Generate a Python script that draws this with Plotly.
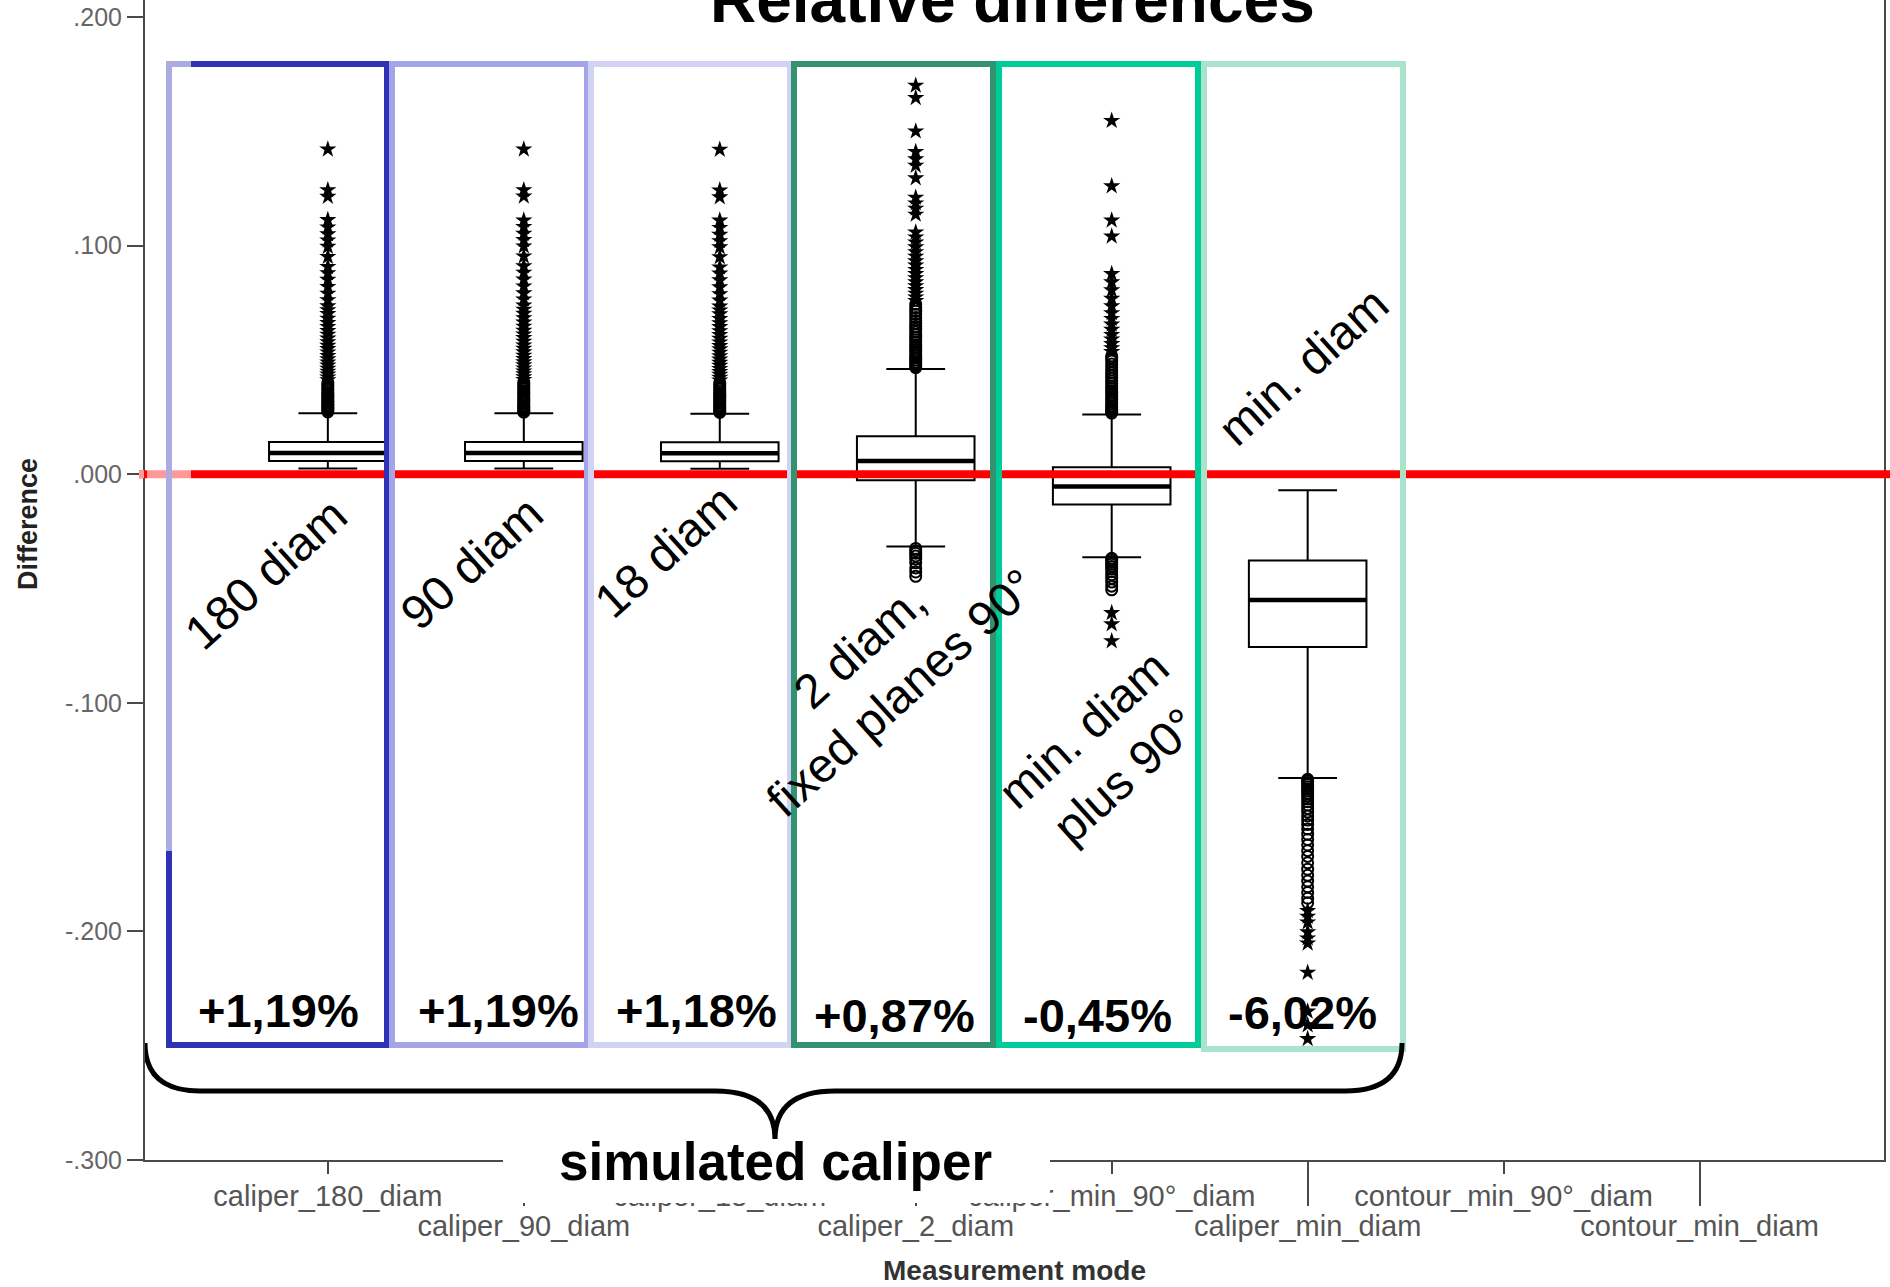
import plotly.graph_objects as go

# ---------------- data ----------------
categories = ["caliper_180_diam", "caliper_90_diam", "caliper_18_diam", "caliper_2_diam",
              "caliper_min_90°_diam", "caliper_min_diam", "contour_min_90°_diam", "contour_min_diam"]

q1 = [0.0057, 0.0057, 0.0056, -0.0027, -0.0133, -0.0756]
median = [0.0092, 0.0092, 0.0091, 0.0058, -0.0054, -0.0550]
q3 = [0.0141, 0.0141, 0.0140, 0.0166, 0.0030, -0.0378]
lower_whisker = [0.0025, 0.0025, 0.0024, -0.0317, -0.0363, -0.1329]
upper_whisker = [0.0266, 0.0266, 0.0264, 0.0460, 0.0261, -0.0070]

mild_180 = [0.0272, 0.0279, 0.0285, 0.0291, 0.0298, 0.0304, 0.0311, 0.0318, 0.0325, 0.0333,
            0.0341, 0.0349, 0.0357, 0.0366, 0.0374, 0.0383, 0.0392, 0.0401]
extreme_180 = [0.0412, 0.0424, 0.0437, 0.0449, 0.0462, 0.0476, 0.0489, 0.0503, 0.0518, 0.0533,
               0.0548, 0.0562, 0.0578, 0.0594, 0.0611, 0.0627, 0.0645, 0.0662, 0.0681, 0.0701,
               0.0718, 0.0735, 0.0762, 0.0790, 0.0820, 0.0851, 0.0880, 0.0907, 0.0951, 0.0995,
               0.1023, 0.1050, 0.1080, 0.1112, 0.1214, 0.1243, 0.1421]
mild_90 = [0.0271, 0.0278, 0.0284, 0.0291, 0.0297, 0.0304, 0.0312, 0.0319, 0.0326, 0.0334,
           0.0342, 0.0350, 0.0358, 0.0366, 0.0375, 0.0384, 0.0393, 0.0402]
extreme_90 = [0.0413, 0.0425, 0.0438, 0.0450, 0.0463, 0.0477, 0.0490, 0.0504, 0.0519, 0.0534,
              0.0549, 0.0564, 0.0580, 0.0596, 0.0612, 0.0628, 0.0646, 0.0664, 0.0683, 0.0702,
              0.0720, 0.0738, 0.0765, 0.0792, 0.0822, 0.0852, 0.0882, 0.0910, 0.0953, 0.0997,
              0.1025, 0.1052, 0.1082, 0.1110, 0.1215, 0.1243, 0.1421]
mild_18 = [0.0270, 0.0277, 0.0283, 0.0290, 0.0296, 0.0303, 0.0310, 0.0318, 0.0325, 0.0333,
           0.0341, 0.0349, 0.0357, 0.0365, 0.0374, 0.0383, 0.0392, 0.0400]
extreme_18 = [0.0411, 0.0423, 0.0436, 0.0448, 0.0461, 0.0475, 0.0488, 0.0502, 0.0517, 0.0532,
              0.0547, 0.0561, 0.0577, 0.0593, 0.0610, 0.0626, 0.0644, 0.0661, 0.0680, 0.0700,
              0.0717, 0.0734, 0.0760, 0.0788, 0.0818, 0.0849, 0.0878, 0.0905, 0.0950, 0.0993,
              0.1020, 0.1048, 0.1078, 0.1110, 0.1212, 0.1242, 0.1420]
mild_2 = [0.0466, 0.0474, 0.0482, 0.0490, 0.0499, 0.0508, 0.0517, 0.0526, 0.0536, 0.0546,
          0.0556, 0.0566, 0.0577, 0.0588, 0.0599, 0.0610, 0.0622, 0.0634, 0.0646, 0.0659,
          0.0672, 0.0685, 0.0699, 0.0713, 0.0728, 0.0743,
          -0.0325, -0.0335, -0.0346, -0.0358, -0.0372, -0.0388, -0.0410, -0.0428, -0.0447]
extreme_2 = [0.0758, 0.0774, 0.0790, 0.0806, 0.0823, 0.0840, 0.0858, 0.0876, 0.0894, 0.0913,
             0.0932, 0.0952, 0.0972, 0.0993, 0.1014, 0.1036, 0.1058, 0.1136, 0.1162, 0.1185,
             0.1210, 0.1295, 0.1350, 0.1378, 0.1410, 0.1500, 0.1646, 0.1700]
mild_min90 = [0.0267, 0.0275, 0.0283, 0.0291, 0.0299, 0.0308, 0.0317, 0.0326, 0.0335, 0.0345,
              0.0355, 0.0365, 0.0375, 0.0386, 0.0397, 0.0408, 0.0420, 0.0432, 0.0444, 0.0456,
              0.0469, 0.0482, 0.0495, 0.0508, 0.0517,
              -0.0368, -0.0376, -0.0385, -0.0394, -0.0404, -0.0415, -0.0427, -0.0440, -0.0455,
              -0.0472, -0.0490, -0.0506]
extreme_min90 = [0.0535, 0.0552, 0.0570, 0.0590, 0.0610, 0.0632, 0.0655, 0.0680, 0.0705, 0.0735,
                 0.0768, 0.0805, 0.0840, 0.0876, 0.1040, 0.1110, 0.1260, 0.1546,
                 -0.0607, -0.0656, -0.0730]
mild_min = [-0.1335, -0.1342, -0.1350, -0.1358, -0.1367, -0.1376, -0.1386, -0.1397, -0.1408, -0.1420,
            -0.1433, -0.1447, -0.1462, -0.1478, -0.1495, -0.1513, -0.1532, -0.1552, -0.1575, -0.1598,
            -0.1622, -0.1647, -0.1672, -0.1700, -0.1728, -0.1755, -0.1780, -0.1805, -0.1830, -0.1855,
            -0.1875]
extreme_min = [-0.1910, -0.1935, -0.1960, -0.2003, -0.2030, -0.2052, -0.2180, -0.2350, -0.2410, -0.2470]

mild_points = [mild_180, mild_90, mild_18, mild_2, mild_min90, mild_min]
extreme_points = [extreme_180, extreme_90, extreme_18, extreme_2, extreme_min90, extreme_min]

y_tick_values = [-0.3, -0.2, -0.1, 0.0, 0.1, 0.2]
y_tick_labels = ["-.300", "-.200", "-.100", ".000", ".100", ".200"]

mode_labels = ["180 diam", "90 diam", "18 diam", "2 diam,<br>fixed planes 90°",
               "min. diam<br>plus 90°", "min. diam"]
mean_labels = ["+1,19%", "+1,19%", "+1,18%", "+0,87%", "-0,45%", "-6,02%"]

# ---------------- layout geometry ----------------
W, H = 1890, 1287
L, R, T, B = 145, 1884, 0, 1160
XR = [-0.933, 7.941]
YR = [-0.3, 0.2074]
FONT = "Liberation Sans, Arial, sans-serif"
BOX_W = 0.6


def xd(px):
    return XR[0] + (px - L) / (R - L) * (XR[1] - XR[0])


def yd(py):
    return YR[1] - (py - T) / (B - T) * (YR[1] - YR[0])


def xp(px):
    return (px - L) / (R - L)


def yp(py):
    return (B - py) / (B - T)


fig = go.Figure()

for i in range(len(q1)):
    fig.add_trace(go.Box(
        x=[i], q1=[q1[i]], median=[median[i]], q3=[q3[i]],
        lowerfence=[lower_whisker[i]], upperfence=[upper_whisker[i]],
        width=BOX_W, whiskerwidth=0.5, fillcolor="white",
        line=dict(color="black", width=2), boxpoints=False, hoverinfo="skip"))
    fig.add_trace(go.Scatter(
        x=[i - BOX_W / 2, i + BOX_W / 2], y=[median[i], median[i]], mode="lines",
        line=dict(color="black", width=4.5), hoverinfo="skip"))
    fig.add_trace(go.Scatter(
        x=[i] * len(mild_points[i]), y=mild_points[i], mode="markers",
        marker=dict(symbol="circle-open", size=11, color="black", line=dict(width=2)),
        hoverinfo="skip"))
    fig.add_trace(go.Scatter(
        x=[i] * len(extreme_points[i]), y=extreme_points[i], mode="markers",
        marker=dict(symbol="star", size=13, color="black", line=dict(width=0)),
        hoverinfo="skip"))

# invisible trace to activate the second x axis (long ticks / lower label row)
fig.add_trace(go.Scatter(x=[1], y=[0], xaxis="x2", yaxis="y", mode="markers",
                         marker=dict(opacity=0), hoverinfo="skip"))

shapes = []
# red reference line at zero
shapes.append(dict(type="line", xref="paper", yref="y", x0=xp(139), x1=xp(1890), y0=0, y1=0,
                   line=dict(color="#FF0000", width=8), layer="above"))
shapes.append(dict(type="line", xref="paper", yref="y", x0=xp(139), x1=xp(144), y0=0, y1=0,
                   line=dict(color="#FF9A9A", width=8), layer="above"))

# coloured frames
frames_px = [(169, 387, 1045, "#3131B5"), (392, 587, 1045, "#A4A4E8"), (591, 790, 1045, "#D2D2F4"),
             (794, 993, 1045, "#34936F"), (999, 1198, 1045, "#00CC99"), (1204, 1403, 1049, "#A9E3CB")]
for x0, x1, yb, col in frames_px:
    shapes.append(dict(type="rect", xref="x", yref="y", x0=xd(x0), x1=xd(x1), y0=yd(yb), y1=yd(64),
                       line=dict(color=col, width=6), fillcolor="rgba(0,0,0,0)", layer="above"))

# faded overlay at the top-left corner
shapes.append(dict(type="rect", xref="paper", yref="paper", x0=xp(147), x1=xp(191),
                   y0=yp(851), y1=yp(60), line=dict(width=0),
                   fillcolor="rgba(255,255,255,0.6)", layer="above"))

# white box behind "simulated caliper"
shapes.append(dict(type="rect", xref="paper", yref="paper", x0=xp(503), x1=xp(1050),
                   y0=yp(1203), y1=yp(1114), line=dict(width=0), fillcolor="white", layer="above"))

# curly brace
pts = [(145, 1043), (145, 1091), (200, 1091), (715, 1091), (775, 1091), (775, 1139),
       (775, 1091), (835, 1091), (1345, 1091), (1402, 1091), (1402, 1043)]
P = [(xd(a), yd(b)) for a, b in pts]
path = ("M {0[0]},{0[1]} Q {1[0]},{1[1]} {2[0]},{2[1]} L {3[0]},{3[1]} "
        "Q {4[0]},{4[1]} {5[0]},{5[1]} Q {6[0]},{6[1]} {7[0]},{7[1]} L {8[0]},{8[1]} "
        "Q {9[0]},{9[1]} {10[0]},{10[1]}").format(*P)
shapes.append(dict(type="path", xref="x", yref="y", path=path,
                   line=dict(color="black", width=5), layer="above"))


def note(text, px, py, size, color="black", angle=0, bold=False, xa="center", ya="middle"):
    return dict(text=("<b>%s</b>" % text) if bold else text, x=xp(px), y=yp(py),
                xref="paper", yref="paper", xanchor=xa, yanchor=ya, showarrow=False,
                textangle=angle, align="center",
                font=dict(family=FONT, size=size, color=color))


annotations = []
label_pos = [(265, 574), (471, 563), (665, 551), (880, 669), (1104, 752), (1303, 366)]
for txt, (ax_, ay_) in zip(mode_labels, label_pos):
    annotations.append(note(txt, ax_, ay_, 48, angle=-42))
pct_pos = [(278, 1010), (498, 1010), (696, 1010), (894, 1015), (1097, 1015), (1302, 1012)]
for txt, (ax_, ay_) in zip(mean_labels, pct_pos):
    annotations.append(note(txt, ax_, ay_, 47, bold=True))
annotations.append(note("simulated caliper", 775, 1161, 53, bold=True))
annotations.append(note("Relative differences", 1012, 38, 64, bold=True, ya="bottom"))
annotations.append(note("Difference", 28, 524, 27, color="#222222", angle=-90, bold=True))
annotations.append(note("Measurement mode", 1015, 1270, 28, color="#333333", bold=True))

even_idx = [i for i in range(len(categories)) if i % 2 == 0]
odd_idx = [i for i in range(len(categories)) if i % 2 == 1]

fig.update_layout(
    width=W, height=H,
    margin=dict(l=L, r=W - R, t=T, b=H - B, pad=0, autoexpand=False),
    paper_bgcolor="white", plot_bgcolor="white",
    showlegend=False,
    shapes=shapes, annotations=annotations,
    xaxis=dict(range=XR, tickvals=even_idx, ticktext=[categories[i] for i in even_idx],
               tickangle=0, automargin=False,
               showgrid=False, zeroline=False, showline=True, linecolor="#4a4a4a", linewidth=2,
               ticks="outside", ticklen=12, tickwidth=2, tickcolor="#4a4a4a",
               ticklabelstandoff=-3,
               tickfont=dict(family=FONT, size=29, color="#555555")),
    xaxis2=dict(range=XR, overlaying="x", anchor="y", side="bottom",
                tickvals=odd_idx, ticktext=[categories[i] for i in odd_idx],
                tickangle=0, automargin=False,
                showgrid=False, zeroline=False, showline=False,
                ticks="outside", ticklen=45, tickwidth=2, tickcolor="#4a4a4a",
                ticklabelstandoff=-5,
                tickfont=dict(family=FONT, size=29, color="#555555")),
    yaxis=dict(range=YR, tickvals=y_tick_values, ticktext=y_tick_labels, automargin=False,
               showgrid=False, zeroline=False, showline=True, mirror=True,
               linecolor="#4a4a4a", linewidth=2,
               ticks="outside", ticklen=16, tickwidth=2, tickcolor="#4a4a4a",
               tickfont=dict(family=FONT, size=25, color="#666666")),
)

fig.write_html("out.html")
